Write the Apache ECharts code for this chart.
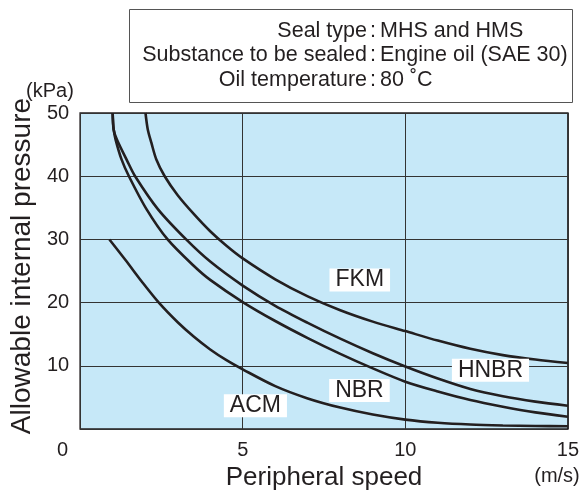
<!DOCTYPE html>
<html>
<head>
<meta charset="utf-8">
<script src="https://cdn.jsdelivr.net/npm/echarts@6/dist/echarts.min.js"></script>
<style>
html, body { margin: 0; padding: 0; background: #fff; }
#drawChartBox { width: 582px; height: 496px; }
</style>
</head>
<body>
<div id="drawChartBox"></div>
<script>
// axis ticks
const xTicks = [0, 5, 10, 15];
const yTicks = [0, 10, 20, 30, 40, 50];

// curves: [peripheral speed (m/s), allowable internal pressure (kPa)]
const fkm = [[2.01, 50], [2.08, 47.4], [2.19, 45.3], [2.34, 42.7], [2.6, 40], [3, 37.0], [3.5, 34.0], [4, 31.3],
    [4.5, 29.0], [5, 27.0], [6, 23.7], [7, 21.0], [8, 18.8], [9, 17.0], [10, 15.5], [11, 14.0], [12, 12.7],
    [13, 11.7], [14, 11.0], [15, 10.45]];
const hnbr = [[1.0, 50], [1.03, 47.4], [1.13, 45.8], [1.45, 42.4], [1.69, 40], [2.39, 34.8], [3.26, 30], [4, 26.5],
    [5, 22.7], [6, 19.5], [7, 16.8], [8, 14.3], [9, 12.0], [10, 9.9], [11, 8.0], [12, 6.35], [13, 5.2], [14, 4.35], [15, 3.7]];
const nbr = [[1.0, 50], [1.03, 47.4], [1.09, 45.8], [1.27, 42.7], [1.5, 40], [2.04, 34.8], [2.69, 30], [3.5, 25.8],
    [4, 23.6], [5, 20.1], [6, 17.1], [7, 14.4], [8, 11.9], [9, 9.6], [10, 7.5], [11, 5.95], [12, 4.6], [13, 3.55], [14, 2.65], [15, 1.95]];
const acm = [[0.9, 30], [1.4, 26.7], [1.9, 23.3], [2.42, 20], [3, 16.9], [3.5, 14.6], [4, 12.6], [4.5, 10.9],
    [5, 9.45], [6, 6.8], [7, 4.85], [8, 3.4], [9, 2.3], [10, 1.5], [11, 1.0], [12, 0.72], [13, 0.58], [14, 0.5], [15, 0.45]];

// curve names and where their tags sit
const curveNames = ['FKM', 'HNBR', 'NBR', 'ACM'];
const tagSpots = [[8.6, 23.6], [12.62, 9.3], [8.59, 6.1], [5.39, 3.7]];

// condition note
const noteKeys = ['Seal type', 'Substance to be sealed', 'Oil temperature'];
const noteValues = ['MHS and HMS', 'Engine oil (SAE 30)', '80 ˚C'];

const FONT = '"Liberation Sans", Arial, Helvetica, sans-serif';
const INK = '#231f20';

let curves = [fkm, hnbr, nbr, acm];

let lineSeries = curves.map((pts, i) => ({
    name: curveNames[i],
    type: 'line',
    data: pts,
    smooth: 0.3,
    showSymbol: false,
    silent: true,
    lineStyle: { color: INK, width: 2.6 },
    z: 3
}));

let tagSeries = {
    type: 'scatter',
    silent: true,
    symbolSize: 0.1,
    itemStyle: { color: INK, opacity: 1 },
    data: tagSpots.map((p, i) => ({ name: curveNames[i], value: p })),
    label: {
        show: true,
        position: 'inside',
        formatter: '{b}',
        fontFamily: FONT,
        fontSize: 23,
        lineHeight: 22,
        color: INK,
        opacity: 1,
        textBorderWidth: 0,
        backgroundColor: '#fff',
        padding: [1, 6, 0, 6]
    },
    z: 5
};

let noteGraphics = [{
    type: 'rect',
    shape: { x: 129.5, y: 9.5, width: 443, height: 93 },
    style: { fill: '#fff', stroke: '#555', lineWidth: 1 }
}];
noteKeys.forEach((k, i) => {
    let y = 31 + 24.5 * i;
    noteGraphics.push(
        { type: 'text', x: 367, y: y, style: { text: k, align: 'right', verticalAlign: 'middle', fontSize: 21.5, fontFamily: FONT, fill: INK } },
        { type: 'text', x: 373, y: y, style: { text: ':', align: 'center', verticalAlign: 'middle', fontSize: 21.5, fontFamily: FONT, fill: INK } },
        { type: 'text', x: 380, y: y, style: { text: noteValues[i], align: 'left', verticalAlign: 'middle', fontSize: 21.5, fontFamily: FONT, fill: INK } }
    );
});
noteGraphics.push(
    { type: 'text', x: 50, y: 91, style: { text: '(kPa)', align: 'center', verticalAlign: 'middle', fontSize: 20, fontFamily: FONT, fill: INK } },
    { type: 'text', x: 557, y: 476, style: { text: '(m/s)', align: 'center', verticalAlign: 'middle', fontSize: 20, fontFamily: FONT, fill: INK } }
);

let option = {
    animation: false,
    grid: {
        left: 79,
        right: 9,
        top: 113,
        bottom: 65,
        show: true,
        backgroundColor: '#c6e8f8',
        borderColor: INK,
        borderWidth: 1.5
    },
    xAxis: {
        type: 'value',
        min: xTicks[0],
        max: xTicks[xTicks.length - 1],
        interval: xTicks[1] - xTicks[0],
        name: 'Peripheral speed',
        nameLocation: 'middle',
        nameGap: 34,
        nameTextStyle: { fontFamily: FONT, fontSize: 26, color: INK },
        axisLine: { show: false },
        axisTick: { show: false },
        axisLabel: {
            margin: 11,
            fontFamily: FONT,
            fontSize: 20,
            color: INK,
            formatter: v => v === 0 ? '{z|0}' : String(v),
            rich: { z: { fontFamily: FONT, fontSize: 20, color: INK, padding: [0, 35, 0, 0] } }
        },
        splitLine: { show: true, lineStyle: { color: '#333', width: 1 } }
    },
    yAxis: {
        type: 'value',
        min: yTicks[0],
        max: yTicks[yTicks.length - 1],
        interval: yTicks[1] - yTicks[0],
        name: 'Allowable internal pressure',
        nameLocation: 'middle',
        nameGap: 43,
        nameTextStyle: { fontFamily: FONT, fontSize: 28, color: INK, padding: [0, 0, 0, 10] },
        axisLine: { show: false },
        axisTick: { show: false },
        axisLabel: {
            margin: 11,
            fontFamily: FONT,
            fontSize: 20,
            color: INK,
            formatter: v => v === 0 ? '' : String(v)
        },
        splitLine: { show: true, lineStyle: { color: '#333', width: 1 } }
    },
    series: [...lineSeries, tagSeries],
    graphic: noteGraphics
};

let myChart = echarts.init(document.getElementById('drawChartBox'));
myChart.setOption(option);
</script>
</body>
</html>
